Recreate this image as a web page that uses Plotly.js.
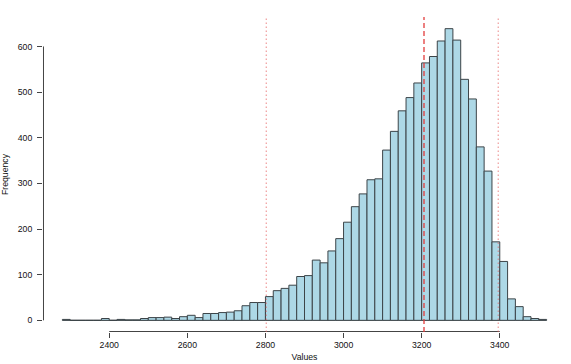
<!DOCTYPE html>
<html>
<head>
<meta charset="utf-8">
<script src="https://cdn.plot.ly/plotly-3.0.1.min.js"></script>
<style>
  html, body { margin: 0; padding: 0; background: #fff; }
  #chart { width: 571px; height: 364px; }
</style>
</head>
<body>
<div id="chart"></div>
<script>
// bin left edges (width 20) and counts
const binWidth = 20;
const binStarts = [];
for (let b = 2280; b < 3520; b += binWidth) binStarts.push(b);
const counts = [
    2, 0, 0, 0, 0, 4, 0, 2, 1, 1,
    4, 6, 6, 7, 4, 8, 11, 6, 15, 15,
    17, 18, 21, 32, 39, 39, 52, 65, 70, 77,
    96, 98, 132, 126, 152, 179, 215, 249, 277, 308,
    310, 373, 414, 459, 488, 520, 564, 578, 612, 639,
    614, 528, 485, 380, 327, 172, 129, 47, 30, 8,
    4, 2
];
const xTicks = [2400, 2600, 2800, 3000, 3200, 3400];
const yTicks = [0, 100, 200, 300, 400, 500, 600];
// vertical reference lines: dotted bounds, dashed centre
const dottedLines = [2802, 3396];
const dashedLines = [3206];

const binCenters = binStarts.map(b => b + binWidth / 2);
const font = { family: "Liberation Sans, Arial, sans-serif", size: 8.7, color: "#111" };

const W = 571, H = 364;
const margin = { l: 42.7, r: 4.7, t: 16.5, b: 32.3 };
const plotW = W - margin.l - margin.r, plotH = H - margin.t - margin.b;

const shapes = [];
// R-style axis lines that only span the tick range (nudged half a pixel inside so they are not clipped)
shapes.push({ type: "line", xref: "x", yref: "paper", x0: xTicks[0], x1: xTicks[xTicks.length - 1],
    y0: 0.5 / plotH, y1: 0.5 / plotH, line: { color: "#444", width: 1 } });
shapes.push({ type: "line", xref: "paper", yref: "y", x0: 0.5 / plotW, x1: 0.5 / plotW,
    y0: yTicks[0], y1: yTicks[yTicks.length - 1], line: { color: "#444", width: 1 } });
// baseline under the bars (empty bins show as a flat line)
shapes.push({ type: "line", xref: "x", yref: "y", x0: binStarts[0], x1: binStarts[binStarts.length - 1] + binWidth, y0: 0, y1: 0,
    line: { color: "#777", width: 1 }, layer: "below" });
dottedLines.forEach(v => shapes.push({ type: "line", xref: "x", yref: "paper", x0: v, x1: v, y0: 0, y1: 1,
    line: { color: "rgba(230,95,95,0.75)", width: 1, dash: "1.5px,2.5px" } }));
dashedLines.forEach(v => shapes.push({ type: "line", xref: "x", yref: "paper", x0: v, x1: v, y0: 0, y1: 1,
    line: { color: "#e23c3c", width: 1.3, dash: "5px,3px" } }));

const trace = {
    type: "bar",
    x: binCenters,
    y: counts,
    width: binWidth,
    marker: { color: "#add8e6", line: { color: "#3c4448", width: 1 } },
    hoverinfo: "x+y"
};

const xMin = binStarts[0], xMax = binStarts[binStarts.length - 1] + binWidth;
const xPad = (xMax - xMin) * 0.04;
const yMax = Math.max(...counts);

const layout = {
    width: W, height: H,
    margin: margin,
    paper_bgcolor: "#fff", plot_bgcolor: "#fff",
    font: font,
    showlegend: false,
    bargap: 0,
    xaxis: {
        range: [xMin - xPad, xMax + xPad],
        tickvals: xTicks, ticktext: xTicks.map(String),
        ticks: "outside", ticklen: 5, tickcolor: "#444", tickwidth: 1,
        showgrid: false, zeroline: false, showline: false,
        tickfont: font,
        title: { text: "Values", font: font, standoff: 4 }
    },
    yaxis: {
        range: [-yMax * 0.04, yMax * 1.04],
        tickvals: yTicks, ticktext: yTicks.map(String),
        ticks: "outside", ticklen: 5, tickcolor: "#444", tickwidth: 1,
        ticklabelstandoff: 3,
        showgrid: false, zeroline: false, showline: false,
        tickfont: font,
        title: { text: "Frequency", font: font, standoff: 7 }
    },
    shapes: shapes
};

Plotly.newPlot("chart", [trace], layout, { displayModeBar: false, staticPlot: true });
</script>
</body>
</html>
